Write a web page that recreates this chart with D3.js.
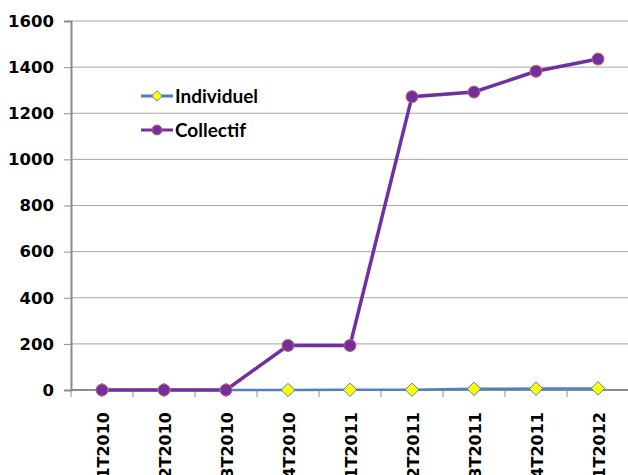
<!DOCTYPE html>
<html>
<head>
<meta charset="utf-8">
<script src="https://cdn.jsdelivr.net/npm/d3@7"></script>
<style>
  body { margin: 0; background: #fff; }
  text { font-weight: bold; }
</style>
</head>
<body>
<div id="chart"></div>
<script>
const svgWidth = 628;
const svgHeight = 475;

const quarters = ["1T2010", "2T2010", "3T2010", "4T2010", "1T2011", "2T2011", "3T2011", "4T2011", "1T2012"];
const individuel = [0, 0, 0, 0, 1, 1, 5, 6, 7];
const collectif = [0, 0, 0, 193, 193, 1272, 1292, 1382, 1435];
const yTicks = [0, 200, 400, 600, 800, 1000, 1200, 1400, 1600];

const axisFont = "'DejaVu Sans', sans-serif";
const legendFont = "Lato, sans-serif";

const margin = {top: 21, right: 0, bottom: 85, left: 71};
const graphWidth = svgWidth - margin.left - margin.right;
const graphHeight = 390 - margin.top;

const svg = d3.select("#chart")
  .append("svg")
  .attr("width", svgWidth)
  .attr("height", svgHeight);

const graph = svg.append("g")
  .attr("transform", `translate(${margin.left}, ${margin.top})`);

const x = d3.scaleBand()
  .domain(quarters)
  .range([0, 558]);

const y = d3.scaleLinear()
  .domain([0, 1600])
  .range([graphHeight, 0]);

const cx = d => x(d) + x.bandwidth() / 2;

// gridlines
graph.selectAll(".grid")
  .data(yTicks)
  .enter()
  .append("line")
  .attr("x1", 0)
  .attr("x2", graphWidth)
  .attr("y1", d => y(d))
  .attr("y2", d => y(d))
  .attr("stroke", "#a6a6a6")
  .attr("stroke-width", 1);

// y axis
const yAxis = graph.append("g")
  .call(d3.axisLeft(y).tickValues(yTicks).tickSize(7).tickPadding(10).tickFormat(d3.format("d")));
yAxis.select(".domain").attr("stroke", "#8c8c8c").attr("stroke-width", 2);
yAxis.selectAll(".tick line").attr("stroke", "#8c8c8c");
yAxis.selectAll("text")
  .attr("font-size", 16.5)
  .attr("fill", "#000")
  .style("font-family", axisFont)
  .style("font-weight", "bold");

// x axis
const xAxis = graph.append("g")
  .attr("transform", `translate(0, ${graphHeight})`);
xAxis.append("line")
  .attr("x1", 0).attr("x2", graphWidth)
  .attr("stroke", "#8c8c8c").attr("stroke-width", 2);
xAxis.selectAll(".xtick")
  .data(quarters.concat(["end"]))
  .enter()
  .append("line")
  .attr("x1", (d, i) => i * x.bandwidth())
  .attr("x2", (d, i) => i * x.bandwidth())
  .attr("y1", 0)
  .attr("y2", 7)
  .attr("stroke", "#8c8c8c");
xAxis.selectAll(".xlabel")
  .data(quarters)
  .enter()
  .append("text")
  .attr("transform", d => `translate(${cx(d) + 7}, 22) rotate(-90)`)
  .attr("text-anchor", "end")
  .attr("font-size", 16)
  .attr("fill", "#000")
  .style("font-family", axisFont)
  .text(d => d);

const line = d3.line()
  .x((d, i) => cx(quarters[i]))
  .y(d => y(d));

// Individuel series
graph.append("path")
  .datum(individuel)
  .attr("d", line)
  .attr("fill", "none")
  .attr("stroke", "#4f81bd")
  .attr("stroke-width", 2.5);

// Collectif series
graph.append("path")
  .datum(collectif)
  .attr("d", line)
  .attr("fill", "none")
  .attr("stroke", "#7030a0")
  .attr("stroke-width", 3.5);

graph.selectAll(".diamond")
  .data(individuel)
  .enter()
  .append("path")
  .attr("d", d3.symbol().type(d3.symbolDiamond2).size(115))
  .attr("transform", (d, i) => `translate(${cx(quarters[i])}, ${y(d)})`)
  .attr("fill", "#ffff00")
  .attr("stroke", "#4f81bd")
  .attr("stroke-width", 1);

graph.selectAll(".dot")
  .data(collectif)
  .enter()
  .append("circle")
  .attr("cx", (d, i) => cx(quarters[i]))
  .attr("cy", d => y(d))
  .attr("r", 6)
  .attr("fill", "#7030a0")
  .attr("stroke", "#d0605a")
  .attr("stroke-width", 1);

// legend
const legend = svg.append("g");
const items = [
  {name: "Individuel", color: "#4f81bd", y: 96},
  {name: "Collectif", color: "#7030a0", y: 130}
];
items.forEach(it => {
  legend.append("line")
    .attr("x1", 141).attr("x2", 173)
    .attr("y1", it.y).attr("y2", it.y)
    .attr("stroke", it.color).attr("stroke-width", 3);
  legend.append("text")
    .attr("x", 175).attr("y", it.y + 7)
    .attr("font-size", 19)
    .style("font-family", legendFont)
    .text(it.name);
});
legend.append("path")
  .attr("d", d3.symbol().type(d3.symbolDiamond2).size(70))
  .attr("transform", "translate(157, 96)")
  .attr("fill", "#ffff00")
  .attr("stroke", "#4f81bd");
legend.append("circle")
  .attr("cx", 157).attr("cy", 130).attr("r", 5)
  .attr("fill", "#7030a0")
  .attr("stroke", "#d0605a");
</script>
</body>
</html>
